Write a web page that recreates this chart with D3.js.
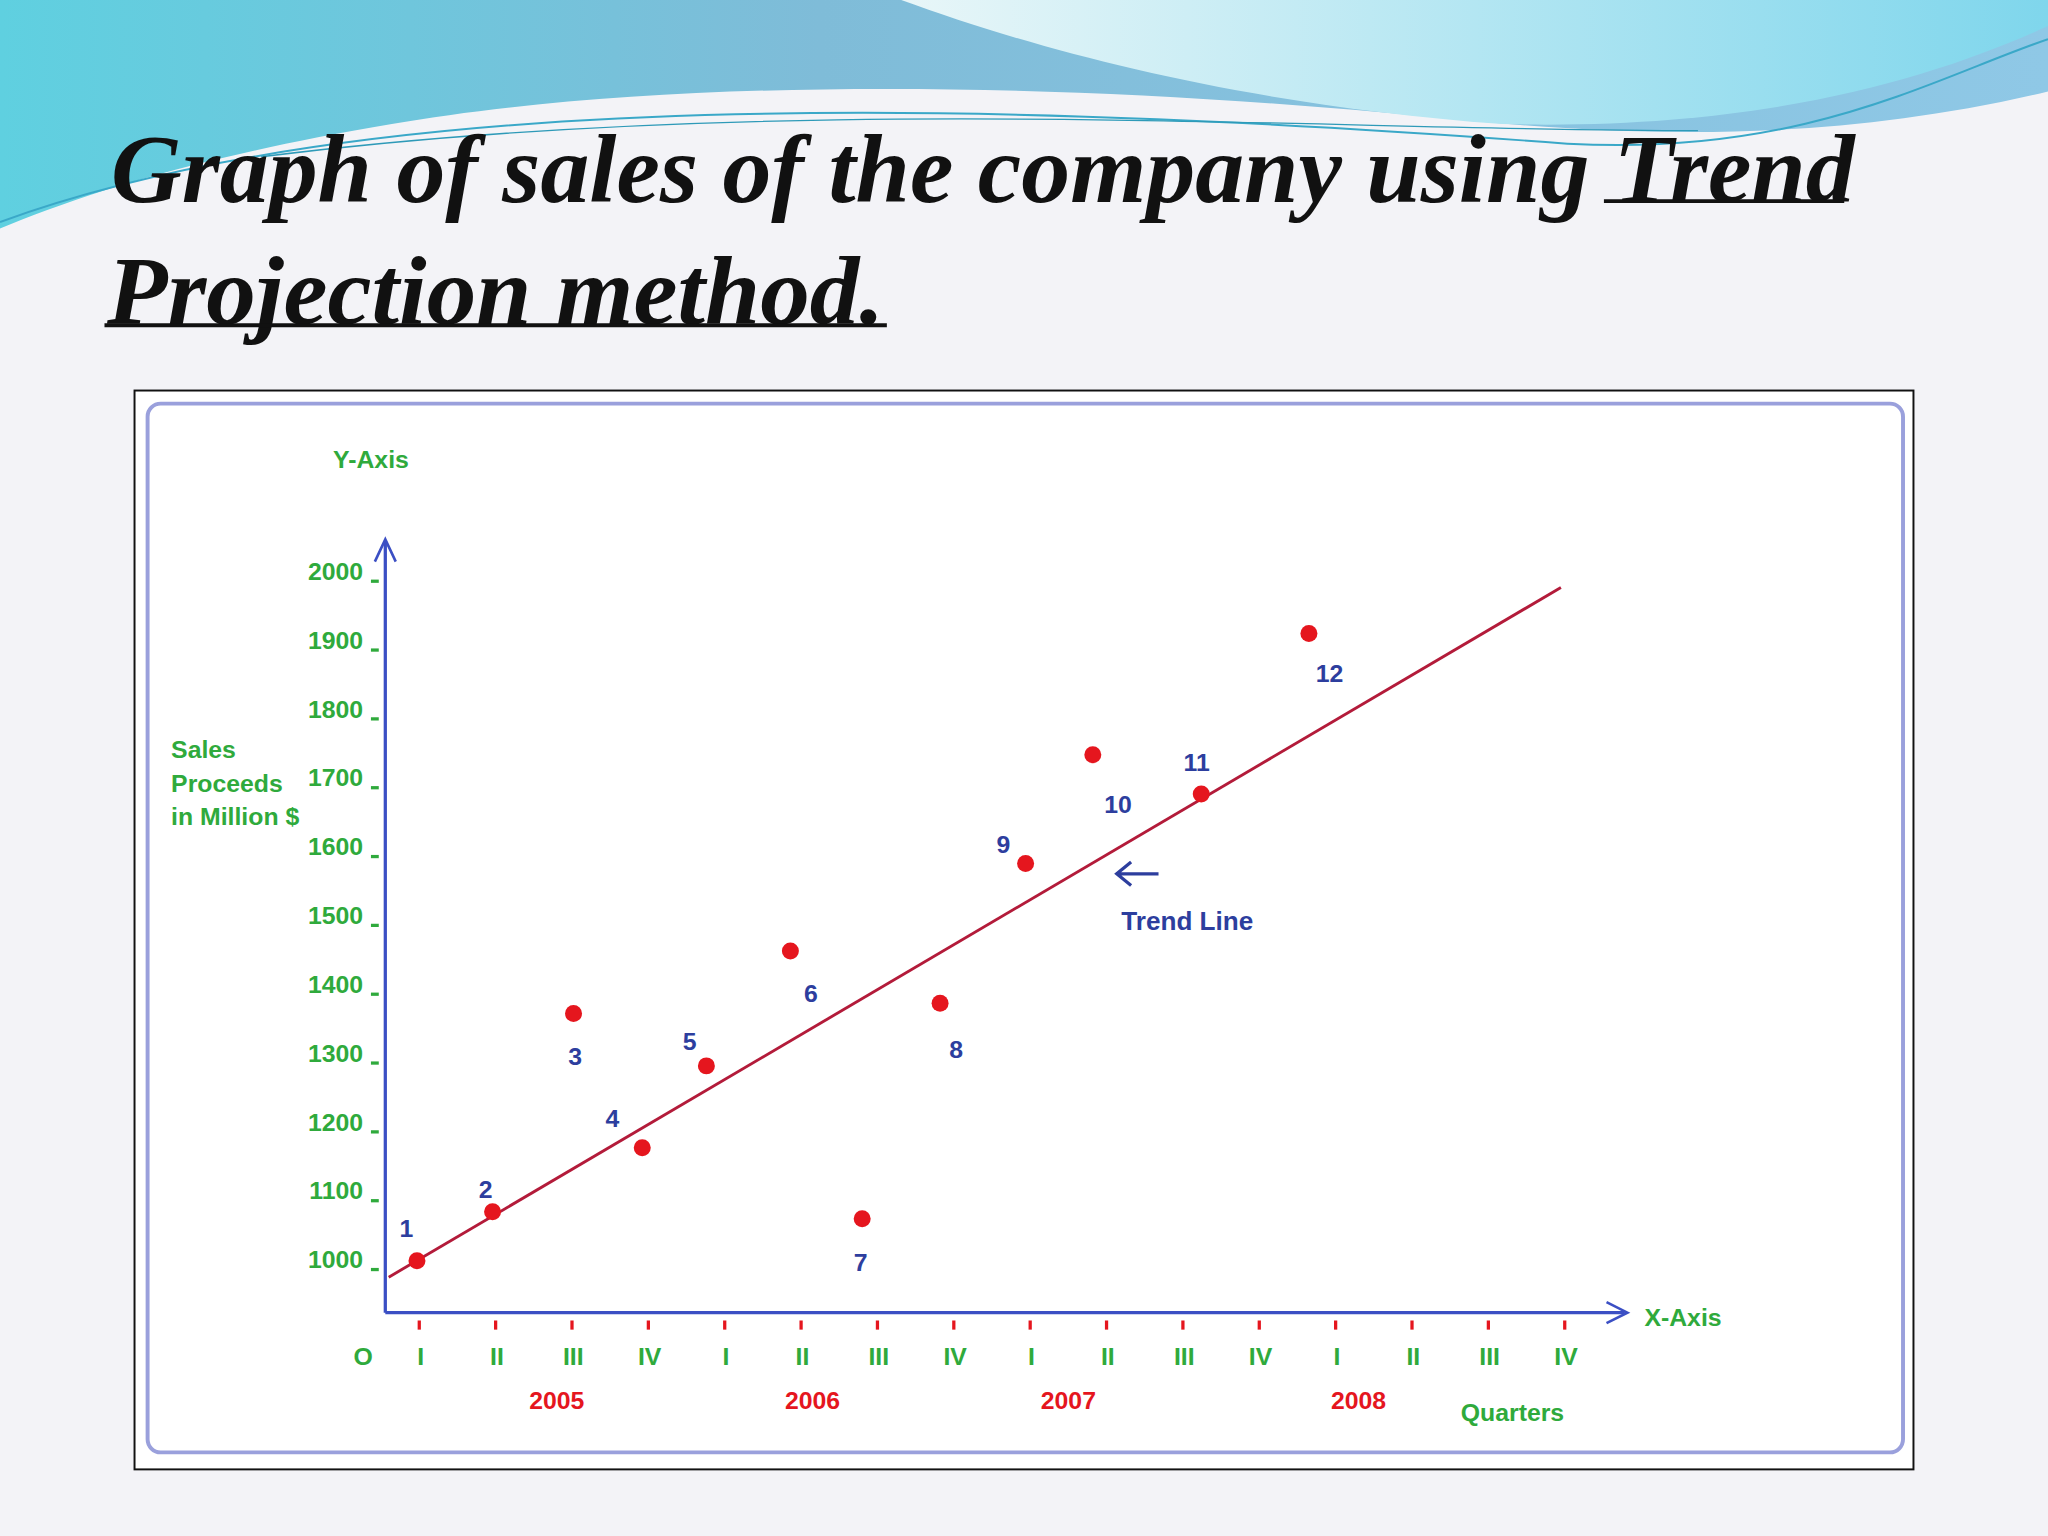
<!DOCTYPE html>
<html><head><meta charset="utf-8">
<script src="https://cdn.jsdelivr.net/npm/d3@7"></script>
<style>body{margin:0;background:#f4f4f7}</style></head>
<body><script>
// ---- data ----
const yTicks = [1000,1100,1200,1300,1400,1500,1600,1700,1800,1900,2000];
const quarterLabels = ["I","II","III","IV","I","II","III","IV","I","II","III","IV","I","II","III","IV"];
const years = ["2005","2006","2007","2008"];
const yearPos = [2.8,6.15,9.5,13.3];
const pointIds = [1,2,3,4,5,6,7,8,9,10,11,12];
const pointQ = [0.97,1.96,3.02,3.92,4.76,5.86,6.80,7.82,8.94,9.82,11.24,12.65];
const pointV = [1011,1082,1370,1175,1294,1461,1072,1385,1588,1746,1689,1922];
const labelQ = [0.83,1.87,3.04,3.53,4.54,6.13,6.78,8.03,8.65,10.15,11.18,12.92];
const labelV = [1046,1102,1296,1205,1317,1387,996,1305,1603,1662,1723,1852];
const trendQ = [0.6,15.95];
const trendV = [987,1989];

const W=1568,H=1176;
const svg=d3.select("body").append("svg").attr("width",2048).attr("height",1536).attr("viewBox",`0 0 ${W} ${H}`);
const defs=svg.append("defs");
const g1=defs.append("linearGradient").attr("id","wave").attr("x1",0).attr("x2",1);
g1.append("stop").attr("offset",0).attr("stop-color","#5fd0e0");
g1.append("stop").attr("offset",0.4).attr("stop-color","#7fbcd8");
g1.append("stop").attr("offset",1).attr("stop-color","#8fc8e6");
const g2=defs.append("linearGradient").attr("id","wave2").attr("x1",0).attr("x2",1);
g2.append("stop").attr("offset",0).attr("stop-color","#e8f6f8");
g2.append("stop").attr("offset",1).attr("stop-color","#7fd6ec");
svg.append("rect").attr("width",W).attr("height",H).attr("fill","#f3f3f7");
svg.append("path").attr("d","M0,0 H1568 V70 C1400,110 1250,105 1100,90 C800,60 500,60 300,95 C150,120 60,150 0,175 Z").attr("fill","url(#wave)");
svg.append("path").attr("d","M690,0 C800,40 950,80 1150,95 C1350,100 1480,60 1568,20 V0 Z").attr("fill","url(#wave2)");
svg.append("path").attr("d","M0,170 C300,60 800,80 1200,110 C1380,120 1480,60 1568,30").attr("fill","none").attr("stroke","#3aa8c8").attr("stroke-width",1.5);
svg.append("path").attr("d","M200,120 C600,70 1000,100 1300,100").attr("fill","none").attr("stroke","#2e9ab8").attr("stroke-width",1);

// title
const tt=svg.append("g").attr("font-family","Liberation Serif, serif").attr("font-style","italic").attr("font-weight","bold").attr("font-size",74).attr("fill","#111");
tt.append("text").attr("x",85).attr("y",155).attr("textLength",1335).attr("lengthAdjust","spacingAndGlyphs").text("Graph of sales of the company using Trend");
tt.append("text").attr("x",82).attr("y",248).attr("textLength",595).attr("lengthAdjust","spacingAndGlyphs").text("Projection method.");
svg.append("line").attr("x1",1228).attr("x2",1412).attr("y1",154).attr("y2",154).attr("stroke","#111").attr("stroke-width",3);
svg.append("line").attr("x1",80).attr("x2",679).attr("y1",249).attr("y2",249).attr("stroke","#111").attr("stroke-width",3);

// frames
svg.append("rect").attr("x",103).attr("y",299).attr("width",1362).attr("height",826).attr("fill","#fff").attr("stroke","#111").attr("stroke-width",1.5);
svg.append("rect").attr("x",113).attr("y",309).attr("width",1344).attr("height",803).attr("rx",10).attr("fill","#fff").attr("stroke","#9aa0dc").attr("stroke-width",3);

const x=d3.scaleLinear().domain([1,16]).range([321,1198]);
const y=d3.scaleLinear().domain([1000,2000]).range([971,444]);
const green="#2faa3c",blue="#2d3e9e",red="#e5161e",axisC="#3b4fc4";
const F="Liberation Sans, Arial, sans-serif";

// axes
svg.append("line").attr("x1",295).attr("x2",295).attr("y1",1005).attr("y2",414).attr("stroke",axisC).attr("stroke-width",2.5);
svg.append("path").attr("d","M287,430 L295,413 L303,430").attr("fill","none").attr("stroke",axisC).attr("stroke-width",2);
svg.append("line").attr("x1",295).attr("x2",1244).attr("y1",1005).attr("y2",1005).attr("stroke",axisC).attr("stroke-width",2.5);
svg.append("path").attr("d","M1230,997 L1246,1005 L1230,1013").attr("fill","none").attr("stroke",axisC).attr("stroke-width",2);

// y ticks
const ya=svg.append("g");
ya.selectAll("text").data(yTicks).join("text").attr("x",278).attr("y",d=>y(d)).attr("text-anchor","end")
  .attr("font-family",F).attr("font-weight","bold").attr("font-size",19).attr("fill",green).text(d=>d);
ya.selectAll("line").data(yTicks).join("line").attr("x1",284).attr("x2",290).attr("y1",d=>y(d)+1).attr("y2",d=>y(d)+1).attr("stroke",green).attr("stroke-width",2.5);

// x ticks
const xa=svg.append("g");
xa.selectAll("line").data(quarterLabels).join("line").attr("x1",(d,i)=>x(i+1)).attr("x2",(d,i)=>x(i+1)).attr("y1",1011).attr("y2",1018).attr("stroke",red).attr("stroke-width",2.5);
xa.selectAll("text").data(quarterLabels).join("text").attr("x",(d,i)=>x(i+1)+1).attr("y",1045).attr("text-anchor","middle")
  .attr("font-family",F).attr("font-weight","bold").attr("font-size",19).attr("fill",green).text(d=>d);
svg.append("text").attr("x",278).attr("y",1045).attr("text-anchor","middle").attr("font-family",F).attr("font-weight","bold").attr("font-size",19).attr("fill",green).text("O");
svg.selectAll(".yr").data(years).join("text").attr("x",(d,i)=>x(yearPos[i])).attr("y",1079).attr("text-anchor","middle")
  .attr("font-family",F).attr("font-weight","bold").attr("font-size",19).attr("fill",red).text(d=>d);

const lab=(t,xx,yy,c,s,anchor)=>svg.append("text").attr("x",xx).attr("y",yy).attr("text-anchor",anchor||"start").attr("font-family",F).attr("font-weight","bold").attr("font-size",s||19).attr("fill",c).text(t);
lab("Y-Axis",284,358,green,19,"middle");
lab("X-Axis",1259,1015,green,19);
lab("Quarters",1158,1088,green,19,"middle");
lab("Sales",131,580,green,19);
lab("Proceeds",131,606,green,19);
lab("in Million $",131,632,green,19);
lab("Trend Line",909,712,blue,20,"middle");
svg.append("path").attr("d","M887,669 H856 M866,660 L855,669 L866,678").attr("fill","none").attr("stroke",blue).attr("stroke-width",2.5);

// trend line
svg.append("line").attr("x1",x(trendQ[0])).attr("y1",y(trendV[0])).attr("x2",x(trendQ[1])).attr("y2",y(trendV[1])).attr("stroke","#b31b3a").attr("stroke-width",2.2);

// points
svg.selectAll(".pt").data(pointIds).join("circle").attr("cx",(d,i)=>x(pointQ[i])).attr("cy",(d,i)=>y(pointV[i])).attr("r",6.5).attr("fill",red);
svg.selectAll(".pl").data(pointIds).join("text").attr("x",(d,i)=>x(labelQ[i])).attr("y",(d,i)=>y(labelV[i])).attr("text-anchor","middle")
  .attr("font-family",F).attr("font-weight","bold").attr("font-size",19).attr("fill",blue).text(d=>d);
</script></body></html>
